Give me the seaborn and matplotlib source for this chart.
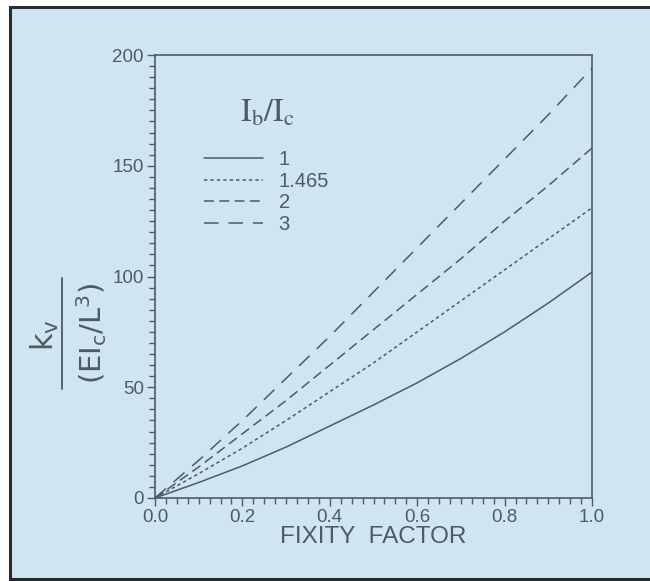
import numpy as np
import pandas as pd
import matplotlib
matplotlib.use("Agg")
import matplotlib.pyplot as plt
from matplotlib.patches import Rectangle
from matplotlib.lines import Line2D
from matplotlib.ticker import MultipleLocator
import seaborn as sns

# ---- data ----
fixity = [0.0, 0.1, 0.2, 0.3, 0.4, 0.5, 0.6, 0.7, 0.8, 0.9, 1.0]
k_ratio_1 = [0, 7, 14.5, 23, 32.5, 42, 52, 63, 75, 88, 102]
k_ratio_1465 = [0, 11, 22.5, 35, 48, 61, 75, 89, 103, 117, 131]
k_ratio_2 = [0, 14, 29, 44, 60, 76, 92, 108, 125, 141, 158]
k_ratio_3 = [0, 17, 35, 54, 73, 93, 113, 133, 153, 173, 194]
series_labels = ["1", "1.465", "2", "3"]
x_ticks = [0.0, 0.2, 0.4, 0.6, 0.8, 1.0]
y_ticks = [0, 50, 100, 150, 200]

rows = []
for lab, vals in zip(series_labels, [k_ratio_1, k_ratio_1465, k_ratio_2, k_ratio_3]):
    for xv, yv in zip(fixity, vals):
        rows.append({"fixity": xv, "k": yv, "ratio": lab})
df = pd.DataFrame(rows)

BG = "#cfe6f2"
INK = "#4f5a62"

sns.set_theme(style="ticks")
plt.rcParams["font.family"] = ["Liberation Sans", "DejaVu Sans"]

fig = plt.figure(figsize=(6.5, 5.81), dpi=100)
fig.patch.set_facecolor("white")
fig.patches.append(Rectangle((10 / 650, 2 / 581), 1.0, 1 - 9 / 581,
                             transform=fig.transFigure, facecolor=BG,
                             edgecolor="#2a2a30", linewidth=2.2, zorder=-10))

ax = fig.add_axes([155 / 650, 1 - 498 / 581, (592 - 155) / 650, (498 - 55) / 581])
ax.set_facecolor(BG)

dashes = {"1": "", "1.465": (2.2, 2.0), "2": (6.5, 3.5), "3": (9.5, 6.5)}
sns.lineplot(data=df, x="fixity", y="k", style="ratio", dashes=dashes,
             style_order=series_labels, color=INK, linewidth=1.1,
             legend=False, ax=ax)

ax.set_xlim(0, 1)
ax.set_ylim(0, 200)
ax.set_xticks(x_ticks)
ax.set_xticklabels([f"{t:.1f}" for t in x_ticks])
ax.set_yticks(y_ticks)
ax.set_yticklabels([str(t) for t in y_ticks])
ax.xaxis.set_minor_locator(MultipleLocator(0.025))
ax.yaxis.set_minor_locator(MultipleLocator(5))
ax.tick_params(axis="both", which="major", direction="out", length=6, width=1,
               color=INK, labelcolor=INK, labelsize=13.5, pad=2)
ax.tick_params(axis="both", which="minor", direction="out", length=4, width=1,
               color=INK)
for s in ax.spines.values():
    s.set_color(INK)
    s.set_linewidth(1.2)
ax.set_xlabel("FIXITY  FACTOR", fontsize=17.5, color=INK, labelpad=0)
ax.set_ylabel("")

# legend
handles = [Line2D([], [], color=INK, lw=1.1, linestyle="-"),
           Line2D([], [], color=INK, lw=1.1, linestyle=(0, (2.2, 2.0))),
           Line2D([], [], color=INK, lw=1.1, linestyle=(0, (6.5, 3.5))),
           Line2D([], [], color=INK, lw=1.1, linestyle=(0, (9.5, 6.5)))]
leg = ax.legend(handles, series_labels, loc="upper left",
                bbox_to_anchor=((194 - 155) / 437, 1 - (140 - 55) / 443),
                frameon=False, fontsize=14.5, handlelength=2.95, handletextpad=0.75,
                labelspacing=0.13, borderpad=0, labelcolor=INK)

ax.text((268 - 155) / 437, 1 - (113 - 55) / 443, r"$\mathrm{I_b/I_c}$",
        transform=ax.transAxes, ha="center", va="center", fontsize=23,
        color=INK, math_fontfamily="stix")

# y label as a fraction
fig.text(45 / 650, 1 - 335 / 581, r"$\mathsf{k_v}$", rotation=90, ha="center",
         va="center", fontsize=22, color=INK, math_fontfamily="dejavusans")
fig.text(92 / 650, 1 - 333 / 581, r"$\mathsf{(EI_c/L^3)}$", rotation=90,
         ha="center", va="center", fontsize=21, color=INK,
         math_fontfamily="dejavusans")
fig.lines.append(Line2D([62 / 650, 62 / 650], [1 - 278 / 581, 1 - 389 / 581],
                        transform=fig.transFigure, color=INK, lw=1.3))

fig.savefig("out.png", dpi=100, facecolor=fig.get_facecolor())
